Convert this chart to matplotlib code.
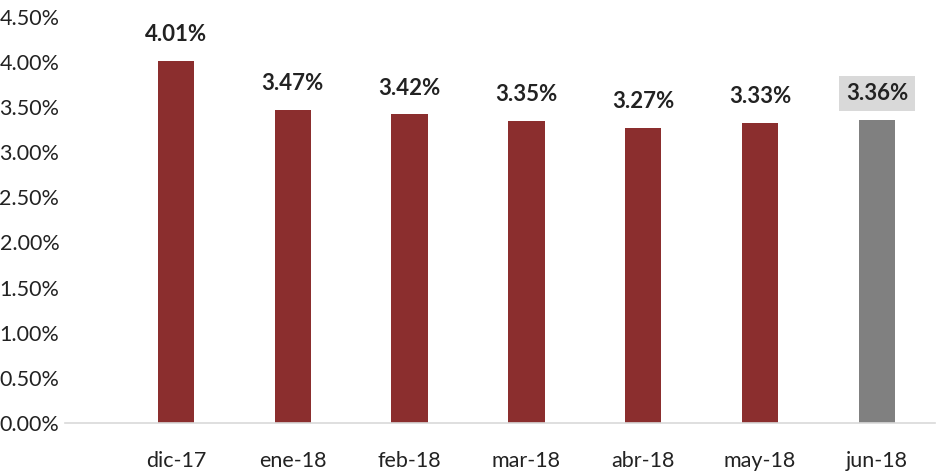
import matplotlib.pyplot as plt
from matplotlib.ticker import FuncFormatter

plt.rcParams['font.family'] = ['Lato', 'DejaVu Sans']

# monthly values (%)
months = ['dic-17', 'ene-18', 'feb-18', 'mar-18', 'abr-18', 'may-18', 'jun-18']
values = [4.01, 3.47, 3.42, 3.35, 3.27, 3.33, 3.36]
colors = ['#8b2e2e'] * 6 + ['#808080']

fig, ax = plt.subplots(figsize=(9.41, 4.75), dpi=100)
fig.subplots_adjust(left=0.069, right=0.994, top=0.964, bottom=0.11)

x = range(len(months))
bars = ax.bar(x, values, width=0.31, color=colors)

for i, (b, v) in enumerate(zip(bars, values)):
    box = None
    if i == len(values) - 1:
        box = dict(boxstyle='square,pad=0.3', fc='#d9d9d9', ec='none')
    ax.annotate(f'{v:.2f}%', (b.get_x() + b.get_width() / 2, v),
                xytext=(0, 19), textcoords='offset points',
                ha='center', va='center', fontsize=16, fontweight='bold',
                color='#222222', bbox=box)

ax.set_xlim(-0.95, 6.5)
ax.set_ylim(0, 4.5)
ax.set_yticks([i * 0.5 for i in range(10)])
ax.yaxis.set_major_formatter(FuncFormatter(lambda v, p: f'{v:.2f}%'))
ax.set_xticks(list(x))
ax.set_xticklabels(months)

for s in ['top', 'right', 'left']:
    ax.spines[s].set_visible(False)
ax.spines['bottom'].set_color('#d9d9d9')
ax.spines['bottom'].set_linewidth(1.2)
ax.tick_params(axis='both', length=0, labelsize=15.5, colors='#222222')
ax.tick_params(axis='x', pad=20)
ax.tick_params(axis='y', pad=4)

plt.savefig('out.png')
